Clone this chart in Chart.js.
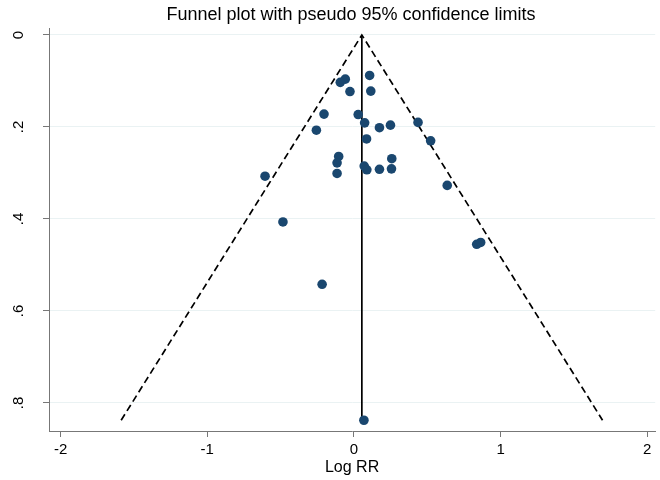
<!DOCTYPE html>
<html>
<head>
<meta charset="utf-8">
<script src="https://cdn.jsdelivr.net/npm/chart.js@4/dist/chart.umd.min.js"></script>
<style>
  html, body { margin: 0; padding: 0; background: #ffffff; }
  canvas { display: block; }
</style>
</head>
<body>
<canvas id="c" width="660" height="480"></canvas>
<script>
// ---- Data ----
const chartTitle = 'Funnel plot with pseudo 95% confidence limits';
const xAxisTitle = 'Log RR';
const logRR = [0.107, -0.059, -0.093, -0.027, 0.115, -0.204, 0.029, 0.073, -0.256, 0.174,
               0.249, 0.437, 0.086, 0.523, -0.104, -0.115, 0.258, 0.070, 0.088, 0.174,
               0.256, -0.115, -0.606, 0.636, -0.484, -0.217, 0.837, 0.864, 0.068];
const seLogRR = [0.088, 0.096, 0.103, 0.123, 0.122, 0.172, 0.173, 0.191, 0.207, 0.2015,
                 0.196, 0.190, 0.226, 0.230, 0.264, 0.278, 0.269, 0.285, 0.293, 0.292,
                 0.291, 0.301, 0.307, 0.327, 0.4065, 0.542, 0.455, 0.451, 0.8375];
// pseudo 95% limits (dashed) and pooled estimate (solid)
const funnelX = [-1.587, 0.054, 1.695];
const funnelY = [0.8375, 0, 0.8375];
const pooledX = [0.054, 0.054];
const pooledY = [0, 0.8375];
const xTickValues = [-2, -1, 0, 1, 2];
const xTickLabels = ['-2', '-1', '0', '1', '2'];
const yTickValues = [0, 0.2, 0.4, 0.6, 0.8];
const yTickLabels = ['0', '.2', '.4', '.6', '.8'];

const toPts = (xs, ys) => xs.map((x, i) => ({x: x, y: ys[i]}));

const titlePlugin = {
  id: 'stataTitle',
  afterDraw(chart) {
    const ctx = chart.ctx;
    ctx.save();
    ctx.font = '18px "Liberation Sans", Arial, sans-serif';
    ctx.fillStyle = '#000000';
    ctx.textAlign = 'center';
    ctx.textBaseline = 'alphabetic';
    ctx.fillText(chartTitle, 351, 20);
    ctx.restore();
  }
};

new Chart(document.getElementById('c'), {
  type: 'scatter',
  data: {
    datasets: [
      {
        label: 'Studies',
        data: toPts(logRR, seLogRR),
        backgroundColor: '#1a476f',
        borderColor: '#1a476f',
        borderWidth: 0,
        pointRadius: 4.8,
        pointHoverRadius: 4.8,
        showLine: false
      },
      {
        label: 'Pooled',
        data: toPts(pooledX, pooledY),
        showLine: true,
        borderColor: '#000000',
        borderWidth: 1.7,
        pointRadius: 0,
        fill: false
      },
      {
        label: 'Pseudo 95% limits',
        data: toPts(funnelX, funnelY),
        showLine: true,
        borderColor: '#000000',
        borderWidth: 1.7,
        borderDash: [7, 4],
        pointRadius: 0,
        fill: false
      }
    ]
  },
  options: {
    responsive: false,
    animation: false,
    devicePixelRatio: 1,
    layout: { padding: { top: 28, right: 3, left: 0, bottom: 0 } },
    plugins: {
      legend: { display: false },
      title: { display: false },
      tooltip: { enabled: false }
    },
    scales: {
      x: {
        type: 'linear',
        min: -2.079,
        max: 2.054,
        afterFit(scale) { scale.height = 49; },
        afterBuildTicks(scale) { scale.ticks = xTickValues.map(v => ({value: v})); },
        ticks: {
          callback: (v) => xTickLabels[xTickValues.indexOf(v)],
          color: '#000000',
          font: { family: '"Liberation Sans", Arial, sans-serif', size: 15 },
          padding: 4,
          maxRotation: 0
        },
        grid: {
          drawOnChartArea: false,
          color: '#777777',
          tickColor: '#777777',
          tickLength: 6
        },
        border: { display: true, color: '#777777', width: 1 },
        title: {
          display: true,
          text: xAxisTitle,
          color: '#000000',
          font: { family: '"Liberation Sans", Arial, sans-serif', size: 16 },
          padding: { top: 0, bottom: 3 }
        }
      },
      y: {
        type: 'linear',
        reverse: true,
        min: -0.0152,
        max: 0.8609,
        afterFit(scale) { scale.width = 49; },
        afterBuildTicks(scale) { scale.ticks = yTickValues.map(v => ({value: v})); },
        ticks: {
          callback: (v) => yTickLabels[yTickValues.findIndex(t => Math.abs(t - v) < 1e-9)],
          color: '#000000',
          font: { family: '"Liberation Sans", Arial, sans-serif', size: 15 },
          minRotation: 90,
          maxRotation: 90,
          crossAlign: 'center',
          padding: 18
        },
        grid: {
          color: '#eaf2f3',
          lineWidth: 1,
          tickColor: '#777777',
          tickLength: 6
        },
        border: { display: true, color: '#777777', width: 1 }
      }
    }
  },
  plugins: [titlePlugin]
});
</script>
</body>
</html>
